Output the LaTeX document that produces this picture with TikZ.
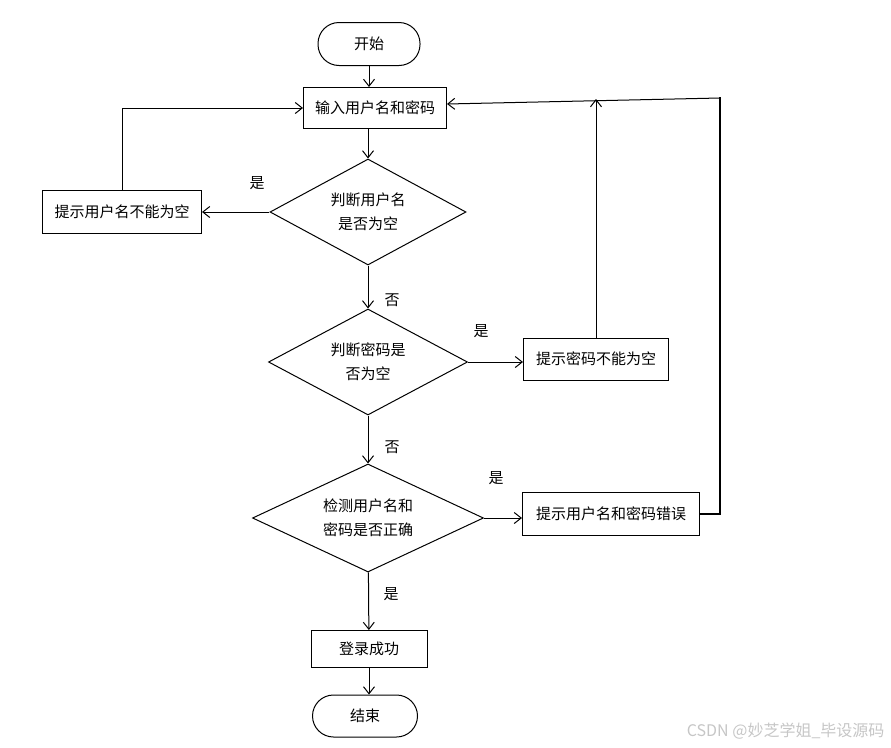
\documentclass[tikz,border=0pt]{standalone}
\usepackage{fontspec}
\setmainfont{Noto Sans CJK SC}
\usetikzlibrary{shapes.geometric,arrows.meta}
\tikzstyle{block} = [rectangle, draw, line width=1pt, inner sep=0pt,
    minimum height=42pt, font=\fontsize{15}{18}\selectfont]
\tikzstyle{term} = [block, rounded corners=21pt]
\tikzstyle{decision} = [diamond, aspect=2, draw, line width=1pt, inner sep=0pt,
    align=center, font=\fontsize{15}{24}\selectfont]
\tikzstyle{line} = [draw, line width=1pt, -{Straight Barb[length=7pt,width=11pt]}]
\tikzstyle{back line} = [draw, line width=2pt]
\tikzstyle{lbl} = [font=\fontsize{15}{18}\selectfont]

\begin{document}
\begin{tikzpicture}[x=1pt, y=-1pt]
        \useasboundingbox (0,0) rectangle (891,747);
        % Place nodes

        % 1. Start and input
        \node [term, minimum width=102pt, minimum height=43pt] (start) at (369,44) {开始};
        \node [block, minimum width=143pt, minimum height=41pt] (inpu) at (375,108) {输入用户名和密码};

        % 2. Check the user name
        \node [decision, minimum width=196pt, minimum height=106pt] (user) at (368,212) {判断用户名\\是否为空};
        \node [block, minimum width=159pt, minimum height=43pt] (nouser) at (122,212) {提示用户名不能为空};

        % 3. Check the password
        \node [decision, minimum width=199pt, minimum height=106pt] (pass) at (368,362) {判断密码是\\否为空};
        \node [block, minimum width=145pt] (nopass) at (596,359) {提示密码不能为空};

        % 4. Check user name and password together
        \node [decision, minimum width=231pt, minimum height=108pt] (check) at (368,518) {检测用户名和\\密码是否正确};
        \node [block, minimum width=177pt, minimum height=43pt] (wrong) at (611,514) {提示用户名和密码错误};

        % 5. Success and end
        \node [block, minimum width=116pt, minimum height=37pt] (succ) at (369,649) {登录成功};
        \node [term, minimum width=105pt, minimum height=42pt] (stop) at (365,716) {结束};

        \coordinate (back) at (720,98); % corner of the return line

        % Labels
        \node [lbl] (yes1) at (257,183) {是};
        \node [lbl] (no1) at (392,300) {否};
        \node [lbl] (yes2) at (481,331) {是};
        \node [lbl] (no2) at (392,447) {否};
        \node [lbl] (yes3) at (496,478) {是};
        \node [lbl] (yes4) at (391,594) {是};
        \node [text=gray!45, font=\fontsize{16}{18}\selectfont, anchor=east] (mark) at (888,731) {CSDN @妙芝学姐\_毕设源码};

        % Draw edges
        \path [line] (start) -- (start.south |- inpu.north);
        \path [line] (user.north |- inpu.south) -- (user);
        \path [line] (user) -- (nouser);
        \path [line] (nouser) |- (inpu);
        \path [line] (user) -- (pass);
        \path [line] (pass) -- (pass.east -| nopass.west);
        \path [line] (nopass) -- ([yshift=-1pt]nopass.north |- back);
        \path [line] (pass) -- (check);
        \path [line] (check) -- (check.east -| wrong.west);
        \path [back line] (wrong) -| ([yshift=1pt]back);
        \path [line] (back) -- ([yshift=4pt]inpu.east);
        \path [line] (check) -- (succ);
        \path [line] (succ) -- (succ |- stop.north);

      \end{tikzpicture}
\end{document}
